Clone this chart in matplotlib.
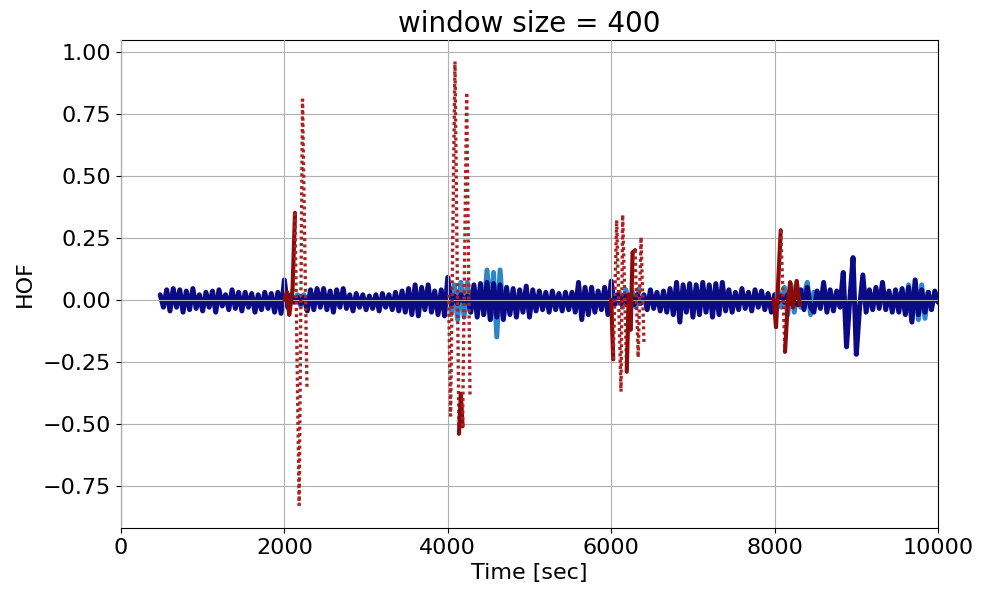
import numpy as np
import matplotlib
matplotlib.use('Agg')
import matplotlib.pyplot as plt

# HOF trace, sampled every 40 s from 480 s to 10000 s
navy_t = np.arange(480, 10001, 40)
navy_v = [
    0.02, -0.03, 0.04, -0.045, 0.045, -0.03, 0.04, -0.05, 0.035, -0.04,
    0.045, -0.035, 0.02, -0.045, 0.03, -0.03, 0.035, -0.05, 0.04, -0.025,
    0.02, -0.04, 0.04, -0.035, 0.03,
    -0.045, 0.03, -0.03, 0.025, -0.05, 0.02, -0.04, 0.03, -0.035, 0.025,
    -0.05, 0.03, -0.055, 0.08, -0.03, 0.02, -0.01, 0.01, -0.015, 0.01,
    -0.045, 0.04, -0.04, 0.045, -0.03,
    0.045, -0.04, 0.035, -0.05, 0.04, -0.03, 0.045, -0.035, 0.02, -0.045,
    0.025, -0.03, 0.02, -0.04, 0.015, -0.035, 0.02, -0.045, 0.025, -0.03,
    0.02, -0.04, 0.03, -0.045, 0.035,
    -0.05, 0.045, -0.06, 0.06, -0.065, 0.05, -0.04, 0.06, -0.05, 0.035,
    -0.06, 0.04, -0.065, 0.09, -0.02, 0.015, -0.015, 0.02, -0.01, 0.015,
    -0.05, 0.06, -0.07, 0.065, -0.06,
    0.07, -0.08, 0.065, -0.07, 0.06, -0.08, 0.05, -0.06, 0.045, -0.07,
    0.04, -0.05, 0.055, -0.07, 0.04, -0.045, 0.035, -0.04, 0.03, -0.05,
    0.035, -0.04, 0.025, -0.045, 0.03,
    -0.04, 0.03, -0.05, 0.07, -0.08, 0.05, -0.06, 0.05, -0.05, 0.035,
    -0.04, 0.05, -0.06, 0.075, -0.02, 0.02, -0.015, 0.02, -0.02, 0.015,
    -0.02, 0.02, -0.015, 0.02, -0.04,
    0.04, -0.035, 0.03, -0.045, 0.035, -0.05, 0.045, -0.06, 0.07, -0.09,
    0.06, -0.05, 0.065, -0.07, 0.06, -0.06, 0.07, -0.05, 0.06, -0.07,
    0.065, -0.06, 0.07, -0.045, 0.04,
    -0.05, 0.03, -0.04, 0.045, -0.035, 0.03, -0.045, 0.04, -0.03, 0.035,
    -0.04, 0.025, -0.05, 0.02, -0.01, 0.015, -0.01, 0.02, -0.015, 0.02,
    -0.02, 0.04, -0.04, 0.05, -0.03,
    -0.05, 0.035, -0.035, 0.07, -0.05, 0.04, -0.045, 0.035, -0.03, 0.11,
    -0.19, 0.0, 0.17, -0.22, -0.03, 0.10, -0.05, 0.04, -0.04, 0.05,
    -0.035, 0.07, -0.04, 0.035, -0.05,
    0.04, -0.05, 0.045, -0.06, 0.05, -0.09, 0.08, -0.06, 0.04, -0.05,
    0.03, -0.04, 0.035, -0.01,
]

# second-class segments (light blue)
lb_t = [
    [2120, 2160, 2200, 2240, 2280],
    [4000, 4040, 4080, 4120, 4160, 4200, 4240, 4280, 4320, 4360,
     4400, 4440, 4480, 4520, 4560, 4600, 4640, 4680, 4720],
    [6060, 6100, 6140, 6180, 6220, 6260, 6300, 6340],
    [8000, 8040, 8080, 8120, 8160, 8200, 8240, 8280, 8320, 8360,
     8400, 8440, 8480],
    [9520, 9560, 9600, 9640, 9680, 9720, 9760, 9800, 9840, 9880],
]
lb_v = [
    [0.0, 0.02, -0.025, 0.02, -0.02],
    [0.02, -0.06, 0.06, -0.08, 0.07, -0.07, 0.07, -0.05, 0.04, -0.05,
     0.05, -0.06, 0.12, -0.08, 0.11, -0.15, 0.12, -0.07, 0.03],
    [0.0, 0.03, -0.03, 0.04, -0.03, 0.03, -0.03, 0.045],
    [0.0, 0.04, -0.03, 0.05, -0.06, 0.06, -0.05, 0.04, -0.03, 0.02,
     0.07, -0.06, 0.03],
    [0.02, 0.03, -0.05, 0.06, -0.08, 0.06, -0.08, 0.06, -0.075, 0.03],
]

# events (dark red)
ev_t = [
    [2000, 2030, 2060, 2100, 2130, 2181, 2222, 2277],
    [4010, 4034, 4088, 4137, 4160, 4181, 4231, 4272],
    [6000, 6025, 6067, 6120, 6140, 6190, 6215, 6238, 6262, 6292, 6330, 6365, 6401],
    [7990, 8017, 8075, 8127, 8160, 8190, 8225, 8270, 8310],
]
ev_v = [
    [0.0, 0.03, -0.06, 0.04, 0.35, -0.83, 0.81, -0.36],
    [0.02, -0.47, 0.96, -0.54, -0.38, -0.51, 0.83, -0.39],
    [0.0, -0.24, 0.32, -0.37, 0.34, -0.29, 0.02, -0.12, 0.19, 0.20, -0.23, 0.25, -0.17],
    [0.0, -0.11, 0.28, -0.21, -0.02, 0.07, -0.03, 0.075, -0.02],
]

fig = plt.figure(figsize=(9.81, 5.9), dpi=100)
ax = fig.add_subplot(111)
fig.subplots_adjust(left=0.1233, right=0.9562, top=0.9322, bottom=0.1051)

for t, v in zip(lb_t, lb_v):
    ax.plot(t, v, color='#2e86c8', lw=3.6, solid_capstyle='round',
            solid_joinstyle='round', zorder=2)

ax.plot(navy_t, navy_v, color='#0b0b85', lw=3.6, solid_capstyle='round',
        solid_joinstyle='round', zorder=2.2)

# big jumps show up dotted, small swings solid
for t, v in zip(ev_t, ev_v):
    for i in range(len(t) - 1):
        if abs(v[i + 1] - v[i]) > 0.4:
            ax.plot(t[i:i + 2], v[i:i + 2], color='#a82424', lw=2.4,
                    linestyle=(0, (0.9, 1.0)), zorder=3)
        else:
            ax.plot(t[i:i + 2], v[i:i + 2], color='#8b0a0a', lw=3.0,
                    solid_capstyle='round', zorder=3)

ax.set_xlim(0, 10000)
ax.set_ylim(-0.92, 1.047)
ax.set_yticks([-0.75, -0.5, -0.25, 0.0, 0.25, 0.5, 0.75, 1.0])
ax.set_axisbelow(False)
ax.grid(True, color='#b0b0b0', lw=0.8)
ax.tick_params(labelsize=16)
ax.set_xlabel('Time [sec]', fontsize=16, labelpad=4)
ax.set_ylabel('HOF', fontsize=16, labelpad=6)
ax.set_title('window size = 400', fontsize=20)

fig.savefig('out.png', dpi=100)
